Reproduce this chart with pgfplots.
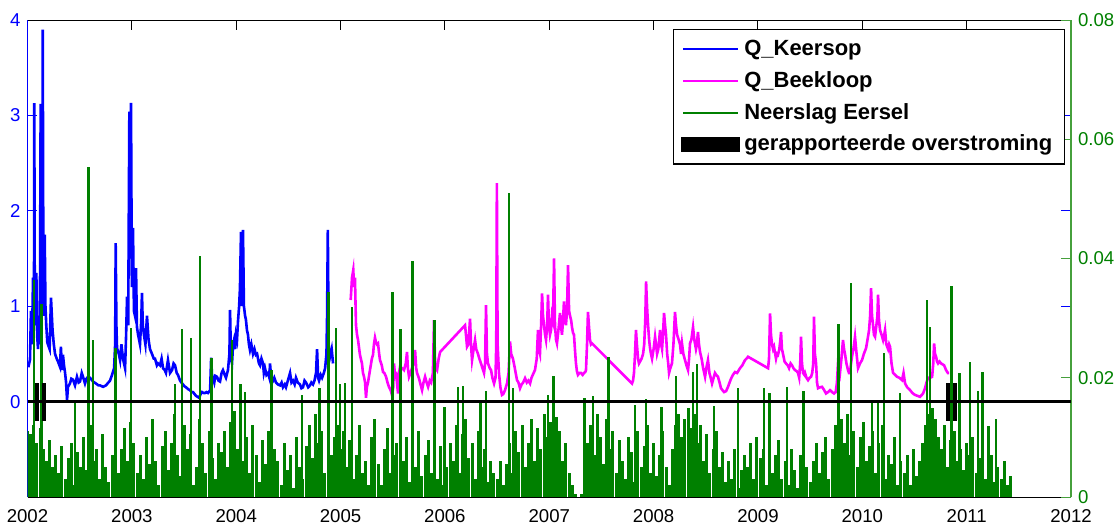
\documentclass[border=0pt]{standalone}
\usepackage{fontspec}
\setmainfont{Liberation Sans}
\usepackage{pgfplots}
\pgfplotsset{compat=1.18}
\definecolor{qblue}{RGB}{0,0,255}
\definecolor{qmag}{RGB}{255,0,255}
\definecolor{rgreen}{RGB}{0,128,0}
\definecolor{raxis}{RGB}{70,160,60}
\pgfplotsset{base/.style={at={(0pt,0pt)}, anchor=south west, scale only axis,
  width=521.75pt, height=238.5pt, xmin=2002, xmax=2012,
  ticklabel style={font=\fontsize{9.3}{11}\selectfont}}}
\begin{document}
\begin{tikzpicture}
% ---------------- left axis: discharges ----------------
\begin{axis}[base, ymin=-1, ymax=4, separate axis lines,
  x axis line style={black, line width=0.5pt},
  y axis line style={qblue, line width=0.5pt},
  xtick={2002,2003,2004,2005,2006,2007,2008,2009,2010,2011,2012},
  xticklabels={2002,2003,2004,2005,2006,2007,2008,2009,2010,2011,2012},
  ytick={0,1,2,3,4}, yticklabels={0,1,2,3,4},
  tick align=inside, major tick length=5pt,
  xtick style={black, line width=0.5pt},
  ytick style={qblue, line width=0.5pt},
  yticklabel style={text=qblue},
  xticklabel style={yshift=-2.5pt}]
\addplot[qblue, line width=1.3pt] table[row sep=\\] {
x y\\
2002.008 0.36\\ 2002.024 0.44\\ 2002.033 0.95\\ 2002.043 0.60\\ 2002.053 1.30\\
2002.062 0.90\\ 2002.065 3.13\\ 2002.070 1.00\\ 2002.078 0.80\\ 2002.085 1.35\\
2002.092 0.70\\ 2002.101 0.55\\ 2002.110 0.90\\ 2002.118 0.60\\ 2002.126 3.12\\
2002.134 1.20\\ 2002.140 0.95\\ 2002.146 3.90\\ 2002.152 1.40\\ 2002.160 0.90\\
2002.165 1.75\\ 2002.172 1.00\\ 2002.180 0.80\\ 2002.190 0.62\\ 2002.199 0.59\\
2002.212 0.55\\ 2002.225 1.09\\ 2002.240 0.75\\ 2002.252 0.60\\ 2002.264 0.50\\
2002.280 0.45\\ 2002.292 0.42\\ 2002.311 0.365\\ 2002.320 0.575\\ 2002.331 0.33\\
2002.340 0.49\\ 2002.350 0.38\\ 2002.359 0.31\\ 2002.369 0.21\\ 2002.379 0.02\\
2002.388 0.155\\ 2002.407 0.19\\ 2002.420 0.24\\ 2002.436 0.23\\ 2002.455 0.17\\
2002.474 0.26\\ 2002.490 0.20\\ 2002.503 0.21\\ 2002.520 0.30\\ 2002.532 0.26\\
2002.551 0.19\\ 2002.565 0.24\\ 2002.580 0.26\\ 2002.599 0.25\\ 2002.628 0.21\\
2002.656 0.19\\ 2002.680 0.17\\ 2002.695 0.17\\ 2002.724 0.155\\ 2002.752 0.17\\
2002.775 0.20\\ 2002.791 0.22\\ 2002.810 0.28\\ 2002.830 0.35\\ 2002.840 0.60\\
2002.845 1.66\\ 2002.852 0.80\\ 2002.858 0.56\\ 2002.875 0.50\\ 2002.887 0.435\\
2002.900 0.60\\ 2002.915 0.45\\ 2002.935 0.35\\ 2002.945 0.70\\ 2002.954 1.10\\
2002.965 0.80\\ 2002.976 3.04\\ 2002.984 1.50\\ 2002.992 3.13\\ 2003.000 1.20\\
2003.011 1.82\\ 2003.020 0.95\\ 2003.030 0.90\\ 2003.040 1.40\\ 2003.049 0.78\\
2003.060 0.70\\ 2003.078 0.60\\ 2003.090 0.85\\ 2003.097 1.14\\ 2003.105 0.80\\
2003.116 0.70\\ 2003.130 0.60\\ 2003.145 0.90\\ 2003.160 0.65\\ 2003.174 0.55\\
2003.193 0.50\\ 2003.210 0.45\\ 2003.222 0.45\\ 2003.240 0.38\\ 2003.251 0.40\\
2003.270 0.38\\ 2003.285 0.45\\ 2003.299 0.35\\ 2003.315 0.33\\ 2003.327 0.30\\
2003.346 0.435\\ 2003.366 0.30\\ 2003.385 0.33\\ 2003.400 0.40\\ 2003.414 0.38\\
2003.430 0.30\\ 2003.442 0.28\\ 2003.462 0.22\\ 2003.475 0.20\\ 2003.490 0.18\\
2003.505 0.16\\ 2003.519 0.15\\ 2003.540 0.13\\ 2003.557 0.12\\ 2003.575 0.10\\
2003.586 0.10\\ 2003.600 0.08\\ 2003.615 0.06\\ 2003.630 0.05\\ 2003.644 0.04\\
2003.660 0.08\\ 2003.672 0.10\\ 2003.690 0.09\\ 2003.701 0.09\\ 2003.715 0.10\\
2003.730 0.09\\ 2003.750 0.12\\ 2003.760 0.46\\ 2003.768 0.28\\ 2003.777 0.25\\
2003.790 0.20\\ 2003.800 0.27\\ 2003.816 0.26\\ 2003.830 0.22\\ 2003.845 0.21\\
2003.860 0.30\\ 2003.873 0.33\\ 2003.890 0.28\\ 2003.902 0.25\\ 2003.921 0.33\\
2003.935 0.50\\ 2003.941 0.96\\ 2003.950 0.45\\ 2003.960 0.40\\ 2003.970 0.60\\
2003.979 0.645\\ 2003.990 0.55\\ 2003.998 0.70\\ 2004.008 0.65\\ 2004.017 0.84\\
2004.028 1.00\\ 2004.036 1.19\\ 2004.046 1.78\\ 2004.055 1.00\\ 2004.065 1.80\\
2004.074 1.00\\ 2004.085 0.90\\ 2004.093 0.86\\ 2004.103 0.75\\ 2004.113 0.70\\
2004.122 0.60\\ 2004.132 0.54\\ 2004.145 0.60\\ 2004.161 0.50\\ 2004.175 0.55\\
2004.189 0.49\\ 2004.200 0.50\\ 2004.209 0.45\\ 2004.218 0.40\\ 2004.228 0.38\\
2004.242 0.45\\ 2004.257 0.40\\ 2004.265 0.30\\ 2004.276 0.35\\ 2004.290 0.28\\
2004.305 0.30\\ 2004.318 0.25\\ 2004.324 0.40\\ 2004.335 0.25\\ 2004.353 0.22\\
2004.365 0.25\\ 2004.381 0.20\\ 2004.400 0.18\\ 2004.420 0.17\\ 2004.435 0.20\\
2004.448 0.15\\ 2004.465 0.18\\ 2004.477 0.15\\ 2004.495 0.22\\ 2004.516 0.30\\
2004.530 0.20\\ 2004.544 0.22\\ 2004.560 0.18\\ 2004.573 0.25\\ 2004.590 0.20\\
2004.611 0.18\\ 2004.625 0.14\\ 2004.640 0.15\\ 2004.655 0.22\\ 2004.669 0.20\\
2004.690 0.15\\ 2004.707 0.17\\ 2004.720 0.20\\ 2004.736 0.18\\ 2004.750 0.22\\
2004.765 0.30\\ 2004.775 0.55\\ 2004.785 0.25\\ 2004.794 0.22\\ 2004.810 0.28\\
2004.823 0.25\\ 2004.840 0.30\\ 2004.852 0.35\\ 2004.865 0.50\\ 2004.871 0.90\\
2004.878 1.80\\ 2004.886 0.60\\ 2004.895 0.45\\ 2004.905 0.50\\ 2004.915 0.55\\
2004.928 0.40\\
};
\addplot[qmag, line width=1.3pt] table[row sep=\\] {
x y\\
2005.097 1.065\\ 2005.110 1.30\\ 2005.122 1.38\\ 2005.130 1.20\\ 2005.138 1.30\\
2005.148 0.80\\ 2005.158 0.70\\ 2005.167 0.65\\ 2005.186 0.49\\ 2005.205 0.40\\
2005.215 0.30\\ 2005.225 0.26\\ 2005.235 0.20\\ 2005.244 0.04\\ 2005.252 0.15\\
2005.263 0.20\\ 2005.282 0.33\\ 2005.300 0.45\\ 2005.311 0.49\\ 2005.320 0.60\\
2005.330 0.67\\ 2005.340 0.62\\ 2005.349 0.60\\ 2005.359 0.61\\ 2005.370 0.50\\
2005.378 0.435\\ 2005.395 0.38\\ 2005.407 0.31\\ 2005.420 0.30\\ 2005.436 0.26\\
2005.450 0.20\\ 2005.464 0.155\\ 2005.480 0.12\\ 2005.493 0.07\\ 2005.505 0.15\\
2005.512 0.40\\ 2005.520 0.30\\ 2005.531 0.30\\ 2005.545 0.15\\ 2005.551 0.085\\
2005.560 0.30\\ 2005.570 0.365\\ 2005.590 0.35\\ 2005.608 0.33\\ 2005.625 0.40\\
2005.637 0.52\\ 2005.645 0.35\\ 2005.656 0.26\\ 2005.670 0.30\\ 2005.685 0.35\\
2005.700 0.40\\ 2005.714 0.54\\ 2005.725 0.35\\ 2005.733 0.30\\ 2005.750 0.25\\
2005.762 0.20\\ 2005.781 0.12\\ 2005.795 0.20\\ 2005.810 0.26\\ 2005.825 0.20\\
2005.839 0.155\\ 2005.855 0.22\\ 2005.868 0.20\\ 2005.885 0.30\\ 2005.896 0.855\\
2005.906 0.40\\ 2005.915 0.35\\ 2005.925 0.33\\ 2005.940 0.45\\ 2005.954 0.52\\
2006.193 0.80\\ 2006.202 0.70\\ 2006.212 0.575\\ 2006.225 0.60\\ 2006.241 0.87\\
2006.250 0.60\\ 2006.260 0.435\\ 2006.275 0.55\\ 2006.289 0.645\\ 2006.300 0.55\\
2006.317 0.50\\ 2006.330 0.45\\ 2006.346 0.40\\ 2006.360 0.35\\ 2006.375 0.30\\
2006.385 0.40\\ 2006.394 1.01\\ 2006.403 0.50\\ 2006.413 0.40\\ 2006.430 0.35\\
2006.442 0.33\\ 2006.455 0.25\\ 2006.471 0.19\\ 2006.485 0.25\\ 2006.492 0.60\\
2006.498 2.29\\ 2006.505 0.60\\ 2006.518 0.30\\ 2006.532 0.15\\ 2006.547 0.07\\
2006.560 0.08\\ 2006.576 0.12\\ 2006.595 0.19\\ 2006.610 0.30\\ 2006.624 0.63\\
2006.635 0.50\\ 2006.652 0.45\\ 2006.670 0.35\\ 2006.691 0.225\\ 2006.705 0.20\\
2006.720 0.14\\ 2006.735 0.18\\ 2006.750 0.20\\ 2006.768 0.245\\ 2006.785 0.20\\
2006.800 0.22\\ 2006.816 0.19\\ 2006.830 0.25\\ 2006.850 0.30\\ 2006.863 0.33\\
2006.880 0.45\\ 2006.892 0.75\\ 2006.900 0.55\\ 2006.911 0.50\\ 2006.922 0.80\\
2006.931 1.135\\ 2006.940 0.90\\ 2006.950 0.80\\ 2006.960 0.70\\ 2006.969 0.645\\
2006.980 0.80\\ 2006.988 1.12\\ 2006.997 0.80\\ 2007.007 0.70\\ 2007.017 0.75\\
2007.026 0.90\\ 2007.036 0.85\\ 2007.046 1.50\\ 2007.055 0.80\\ 2007.065 0.65\\
2007.074 0.61\\ 2007.088 0.75\\ 2007.103 0.93\\ 2007.112 0.80\\ 2007.122 0.70\\
2007.132 0.85\\ 2007.141 1.05\\ 2007.150 0.90\\ 2007.160 0.80\\ 2007.170 0.95\\
2007.180 1.43\\ 2007.190 0.95\\ 2007.199 0.90\\ 2007.210 0.85\\ 2007.218 0.78\\
2007.228 0.72\\ 2007.237 0.70\\ 2007.246 0.55\\ 2007.256 0.40\\ 2007.265 0.32\\
2007.275 0.28\\ 2007.290 0.30\\ 2007.304 0.30\\ 2007.320 0.28\\ 2007.333 0.30\\
2007.345 0.31\\ 2007.352 0.33\\ 2007.362 0.60\\ 2007.371 0.94\\ 2007.380 0.80\\
2007.390 0.65\\ 2007.400 0.60\\ 2007.410 0.61\\ 2007.793 0.19\\ 2007.803 0.22\\
2007.812 0.30\\ 2007.822 0.50\\ 2007.831 0.75\\ 2007.840 0.60\\ 2007.851 0.45\\
2007.860 0.40\\ 2007.870 0.42\\ 2007.885 0.45\\ 2007.899 0.50\\ 2007.910 0.60\\
2007.920 0.85\\ 2007.928 1.26\\ 2007.937 1.00\\ 2007.947 0.80\\ 2007.957 0.65\\
2007.966 0.56\\ 2007.975 0.50\\ 2007.985 0.45\\ 2008.000 0.55\\ 2008.014 0.68\\
2008.023 0.60\\ 2008.033 0.50\\ 2008.045 0.55\\ 2008.062 0.75\\ 2008.072 0.60\\
2008.081 0.55\\ 2008.090 0.70\\ 2008.100 0.93\\ 2008.110 0.80\\ 2008.119 0.70\\
2008.130 0.50\\ 2008.140 0.40\\ 2008.148 0.30\\ 2008.160 0.35\\ 2008.176 0.40\\
2008.190 0.60\\ 2008.205 0.94\\ 2008.215 0.80\\ 2008.225 0.70\\ 2008.240 0.65\\
2008.253 0.60\\ 2008.263 0.50\\ 2008.272 0.61\\ 2008.285 0.50\\ 2008.301 0.435\\
2008.315 0.38\\ 2008.330 0.33\\ 2008.340 0.45\\ 2008.349 0.61\\ 2008.362 0.65\\
2008.378 0.78\\ 2008.390 0.65\\ 2008.406 0.55\\ 2008.415 0.60\\ 2008.425 0.73\\
2008.435 0.60\\ 2008.445 0.52\\ 2008.460 0.45\\ 2008.475 0.35\\ 2008.493 0.26\\
2008.505 0.35\\ 2008.521 0.435\\ 2008.535 0.30\\ 2008.547 0.25\\ 2008.560 0.19\\
2008.575 0.25\\ 2008.588 0.30\\ 2008.600 0.28\\ 2008.617 0.26\\ 2008.632 0.20\\
2008.646 0.14\\ 2008.660 0.12\\ 2008.675 0.10\\ 2008.695 0.11\\ 2008.713 0.155\\
2008.728 0.20\\ 2008.742 0.24\\ 2008.760 0.28\\ 2008.780 0.31\\ 2008.800 0.30\\
2008.828 0.35\\ 2008.850 0.38\\ 2008.876 0.435\\ 2008.890 0.45\\ 2008.905 0.47\\
2009.097 0.35\\ 2009.106 0.45\\ 2009.116 0.925\\ 2009.125 0.70\\ 2009.135 0.60\\
2009.145 0.55\\ 2009.154 0.575\\ 2009.165 0.50\\ 2009.173 0.45\\ 2009.183 0.50\\
2009.192 0.49\\ 2009.205 0.55\\ 2009.215 0.65\\ 2009.221 0.73\\ 2009.230 0.55\\
2009.240 0.50\\ 2009.255 0.42\\ 2009.269 0.40\\ 2009.285 0.38\\ 2009.298 0.35\\
2009.313 0.40\\ 2009.327 0.38\\ 2009.340 0.35\\ 2009.355 0.33\\ 2009.370 0.32\\
2009.384 0.30\\ 2009.395 0.25\\ 2009.405 0.40\\ 2009.413 0.68\\ 2009.422 0.40\\
2009.432 0.30\\ 2009.445 0.28\\ 2009.451 0.30\\ 2009.465 0.25\\ 2009.480 0.225\\
2009.495 0.25\\ 2009.509 0.26\\ 2009.520 0.30\\ 2009.530 0.40\\ 2009.537 0.89\\
2009.546 0.50\\ 2009.557 0.40\\ 2009.566 0.20\\ 2009.576 0.14\\ 2009.595 0.15\\
2009.614 0.155\\ 2009.635 0.12\\ 2009.652 0.085\\ 2009.672 0.10\\ 2009.691 0.12\\
2009.710 0.10\\ 2009.729 0.085\\ 2009.745 0.10\\ 2009.757 0.20\\ 2009.767 0.40\\
2009.777 0.35\\ 2009.786 0.30\\ 2009.800 0.45\\ 2009.815 0.645\\ 2009.825 0.55\\
2009.834 0.50\\ 2009.848 0.40\\ 2009.863 0.33\\ 2009.872 0.30\\ 2009.882 0.30\\
2009.892 0.40\\ 2009.901 0.47\\ 2009.915 0.55\\ 2009.930 0.68\\ 2009.945 0.50\\
2009.959 0.35\\ 2009.978 0.40\\ 2009.997 0.435\\ 2010.015 0.50\\ 2010.036 0.56\\
2010.050 0.65\\ 2010.065 0.75\\ 2010.075 0.90\\ 2010.084 1.19\\ 2010.093 0.90\\
2010.103 0.80\\ 2010.112 0.70\\ 2010.122 0.68\\ 2010.135 0.80\\ 2010.145 0.90\\
2010.151 1.12\\ 2010.160 0.85\\ 2010.170 0.75\\ 2010.185 0.70\\ 2010.199 0.645\\
2010.210 0.70\\ 2010.218 0.75\\ 2010.230 0.60\\ 2010.247 0.55\\ 2010.257 0.60\\
2010.266 0.575\\ 2010.280 0.40\\ 2010.295 0.30\\ 2010.315 0.28\\ 2010.333 0.26\\
2010.355 0.25\\ 2010.381 0.225\\ 2010.395 0.30\\ 2010.410 0.19\\ 2010.430 0.15\\
2010.458 0.12\\ 2010.480 0.09\\ 2010.505 0.07\\ 2010.530 0.06\\ 2010.553 0.05\\
2010.570 0.07\\ 2010.582 0.085\\ 2010.601 0.14\\ 2010.615 0.20\\ 2010.630 0.25\\
2010.650 0.25\\ 2010.669 0.26\\ 2010.680 0.40\\ 2010.688 0.61\\ 2010.697 0.50\\
2010.707 0.47\\ 2010.716 0.42\\ 2010.726 0.40\\ 2010.740 0.42\\ 2010.755 0.40\\
2010.770 0.39\\ 2010.784 0.38\\ 2010.803 0.33\\ 2010.820 0.30\\ 2010.832 0.30\\
};
\end{axis}
% ---------------- right axis: precipitation ----------------
\begin{axis}[base, ymin=0, ymax=0.08, axis y line*=right, axis x line=none,
  scaled y ticks=false,
  y axis line style={raxis, line width=0.6pt},
  ytick={0,0.02,0.04,0.06,0.08}, yticklabels={0,0.02,0.04,0.06,0.08},
  ytick style={raxis, line width=0.5pt}, yticklabel style={text=rgreen},
  tick align=inside, major tick length=5pt]
% precipitation, mm/1000 -> m, one value every 0.03 year from 2002.00
\addplot[ycomb, rgreen, line width=1.5pt] table[row sep=\\, header=false,
  x expr=2002+0.03*\coordindex, y expr=\thisrowno{0}*0.001] {
11\\10.5\\12\\9\\11.5\\8\\6\\9.5\\5\\7\\
4\\8.5\\3\\6.5\\9\\2\\7.5\\5\\10\\4.5\\
12\\6\\8\\3\\10.5\\5\\2.5\\7\\9.5\\4\\
8\\11.5\\6\\12.5\\9\\4\\7\\3\\10\\5.5\\
13\\6\\2\\8.5\\11\\4.5\\9\\14\\7\\3.5\\
12\\8\\10.5\\2\\5\\13\\9\\4\\11\\6.5\\
3\\9\\7.5\\11\\5\\12.5\\14.5\\8\\13\\6\\
10\\4\\12\\7\\2.5\\9.5\\5.5\\11\\3\\8\\
6\\2\\9\\4.5\\7\\1.5\\10\\5\\3\\8.5\\
12\\6.5\\14\\9\\11\\4\\13.5\\7\\10\\12\\
8\\11\\5\\9.5\\3\\7\\12\\4\\6\\2\\
10\\13\\5.5\\2\\8\\11.5\\4\\7\\9\\3\\
6\\10\\2.5\\8.5\\5\\11\\3.5\\7\\9.5\\4\\
7\\3\\8.5\\2\\5\\9\\6\\12\\4\\10.5\\
13\\6.5\\9\\3\\11\\5\\8\\2.5\\6\\4\\
3\\6\\2\\5.5\\9\\4\\11\\7.5\\12\\5\\
9\\13\\6\\11.5\\8\\14\\10\\12.5\\7\\13.5\\
11\\6\\9\\4\\2\\0.5\\0\\0.5\\5\\9\\
12\\7\\14\\10\\5.5\\13\\8\\11\\4\\9.5\\
6\\3\\10\\7.5\\2.5\\11\\5\\8.5\\12\\4\\
9\\3.5\\7\\11\\5\\2\\8\\12\\14\\10\\
13\\15\\11.5\\14\\9\\12\\6\\10.5\\4\\8\\
11\\5\\7.5\\2.5\\6\\3\\8\\1.5\\4.5\\7\\
5\\9\\3\\10\\6.5\\8\\2\\11\\4\\7\\
9.5\\3\\6\\2\\8\\4.5\\1.5\\7\\3.5\\5\\
2.5\\6\\9\\4\\7.5\\10\\3\\8\\12\\6.5\\
13\\9\\14\\7\\11\\5\\10\\12.5\\6\\8.5\\
11\\4\\9\\12\\3\\7\\5.5\\10\\2\\6\\
4\\7\\2\\8\\3.5\\6\\9\\12\\14\\15\\
13\\10\\8\\12\\5\\9.5\\11\\6\\8\\4.5\\
9\\7\\10\\4\\6.5\\8\\3\\5.5\\7\\2.5\\
5\\3\\6\\2\\3.5\\
};
\addplot[ycomb, rgreen, line width=1.2pt] table[row sep=\\] {
x y\\
2002.065 0.0364\\ 2002.136 0.0324\\ 2002.455 0.0160\\ 2002.583 0.0553\\ 2002.630 0.0263\\
2002.845 0.0250\\ 2002.990 0.0283\\ 2003.415 0.0190\\ 2003.478 0.0282\\ 2003.567 0.0267\\
2003.653 0.0404\\ 2003.765 0.0233\\ 2003.957 0.0263\\ 2004.043 0.0190\\ 2004.085 0.0176\\
2004.340 0.0213\\ 2004.628 0.0171\\ 2004.800 0.0183\\ 2004.883 0.0344\\ 2004.956 0.0284\\
2004.995 0.0190\\ 2005.040 0.0192\\ 2005.107 0.0319\\ 2005.496 0.0343\\ 2005.576 0.0281\\
2005.690 0.0396\\ 2005.900 0.0297\\ 2005.995 0.0151\\ 2006.128 0.0185\\ 2006.176 0.0186\\
2006.340 0.0158\\ 2006.394 0.0178\\ 2006.614 0.0510\\ 2006.655 0.0183\\ 2006.990 0.0171\\
2007.040 0.0203\\ 2007.336 0.0166\\ 2007.420 0.0169\\ 2007.566 0.0234\\ 2007.820 0.0154\\
2007.927 0.0164\\ 2008.077 0.0151\\ 2008.215 0.0203\\ 2008.375 0.0210\\ 2008.413 0.0223\\
2008.580 0.0153\\ 2008.810 0.0182\\ 2009.060 0.0182\\ 2009.110 0.0174\\ 2009.280 0.0184\\
2009.435 0.0177\\ 2009.770 0.0290\\ 2009.890 0.0359\\ 2010.090 0.0158\\ 2010.150 0.0158\\
2010.210 0.0241\\ 2010.360 0.0174\\ 2010.620 0.0330\\ 2010.650 0.0285\\ 2010.855 0.0354\\
2010.930 0.0208\\ 2011.030 0.0227\\ 2011.110 0.0178\\ 2011.150 0.0210\\ 2011.210 0.0119\\
2011.280 0.0130\\
};
\end{axis}
% ---------------- overlay: zero line, floods, legend ----------------
\begin{axis}[base, ymin=-1, ymax=4, hide axis,
  legend image code/.code={\draw (0pt,0pt) -- (27.5pt,0pt);},
  legend cell align=left,
  legend style={at={(rel axis cs:0.9943,0.981)}, anchor=north east,
    draw=black, line width=0.7pt, fill=white,
    font=\bfseries\fontsize{11}{12}\selectfont,
    inner xsep=4pt, inner ysep=3pt, row sep=2.5pt}]
\addlegendimage{qblue, line width=1pt}
\addlegendentry{Q\_Keersop}
\addlegendimage{qmag, line width=1pt}
\addlegendentry{Q\_Beekloop}
\addlegendimage{rgreen, line width=1pt}
\addlegendentry{Neerslag Eersel}
\addplot[black, line width=1.6pt, forget plot] coordinates {(2002,0) (2012,0)};
\addplot[black, line width=1.9pt,
  legend image code/.code={\fill[black] (0pt,-3pt) rectangle (27.5pt,3pt);}]
  coordinates {(2002.091,-0.2) (2002.091,0.2)};
\addlegendentry{gerapporteerde overstroming}
\addplot[black, line width=1.9pt, forget plot] coordinates {(2002.158,-0.2) (2002.158,0.2)};
\addplot[black, line width=1.9pt, forget plot] coordinates {(2010.824,-0.2) (2010.824,0.2)};
\addplot[black, line width=1.9pt, forget plot] coordinates {(2010.889,-0.2) (2010.889,0.2)};
\end{axis}
\pgfresetboundingbox
\path[use as bounding box] (-13.75pt,-14pt) rectangle (543.25pt,248.5pt);
\end{tikzpicture}
\end{document}
